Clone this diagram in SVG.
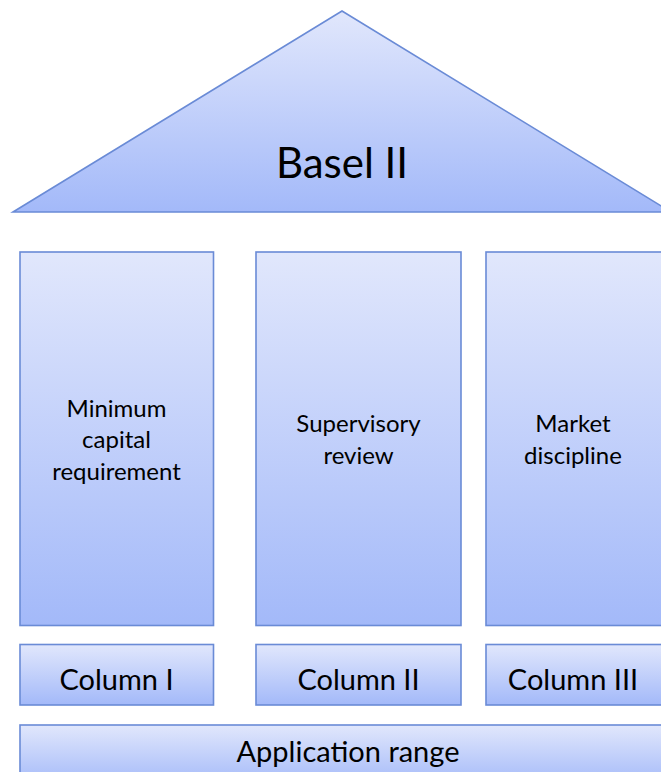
<svg xmlns="http://www.w3.org/2000/svg" width="661" height="772" viewBox="0 0 661 772">
  <defs>
    <linearGradient id="g" x1="0" y1="0" x2="0" y2="1">
      <stop offset="0" stop-color="#e1e7fc"/>
      <stop offset="1" stop-color="#a3b9f9"/>
    </linearGradient>
    <style>
      .s { fill: url(#g); stroke: #6a8bd6; stroke-width: 1.6; }
      .t { font-family: Lato, "Liberation Sans", sans-serif; fill: #000; text-anchor: middle; }
      .p { font-size: 24px; }
      .c { font-size: 29px; }
    </style>
  </defs>
  <rect width="661" height="772" fill="#ffffff"/>
  <g id="roof">
    <polygon class="s" points="13,212 342,11 671,212"/>
    <text class="t" x="342" y="178" font-size="42">Basel II</text>
  </g>
  <g id="pillar1">
    <rect class="s" x="20" y="252" width="193.5" height="373.5"/>
    <text class="t p" x="116.5" y="416.7">Minimum</text>
    <text class="t p" x="116.5" y="448.3">capital</text>
    <text class="t p" x="116.5" y="479.5">requirement</text>
  </g>
  <g id="pillar2">
    <rect class="s" x="256" y="252" width="205" height="373.5"/>
    <text class="t p" x="358.5" y="431.5">Supervisory</text>
    <text class="t p" x="358.5" y="464">review</text>
  </g>
  <g id="pillar3">
    <rect class="s" x="486" y="252" width="176" height="373.5"/>
    <text class="t p" x="573" y="431.5">Market</text>
    <text class="t p" x="573" y="463.5">discipline</text>
  </g>
  <g id="column1">
    <rect class="s" x="20" y="644.5" width="193.5" height="60.5"/>
    <text class="t c" x="116.5" y="690">Column I</text>
  </g>
  <g id="column2">
    <rect class="s" x="256" y="644.5" width="205" height="60.5"/>
    <text class="t c" x="358.5" y="690">Column II</text>
  </g>
  <g id="column3">
    <rect class="s" x="486" y="644.5" width="176" height="60.5"/>
    <text class="t c" x="573" y="690">Column III</text>
  </g>
  <g id="base">
    <rect class="s" x="20" y="725" width="657" height="61"/>
    <text class="t c" x="348" y="761.7">Application range</text>
  </g>
  <g id="connectors"/>
</svg>
